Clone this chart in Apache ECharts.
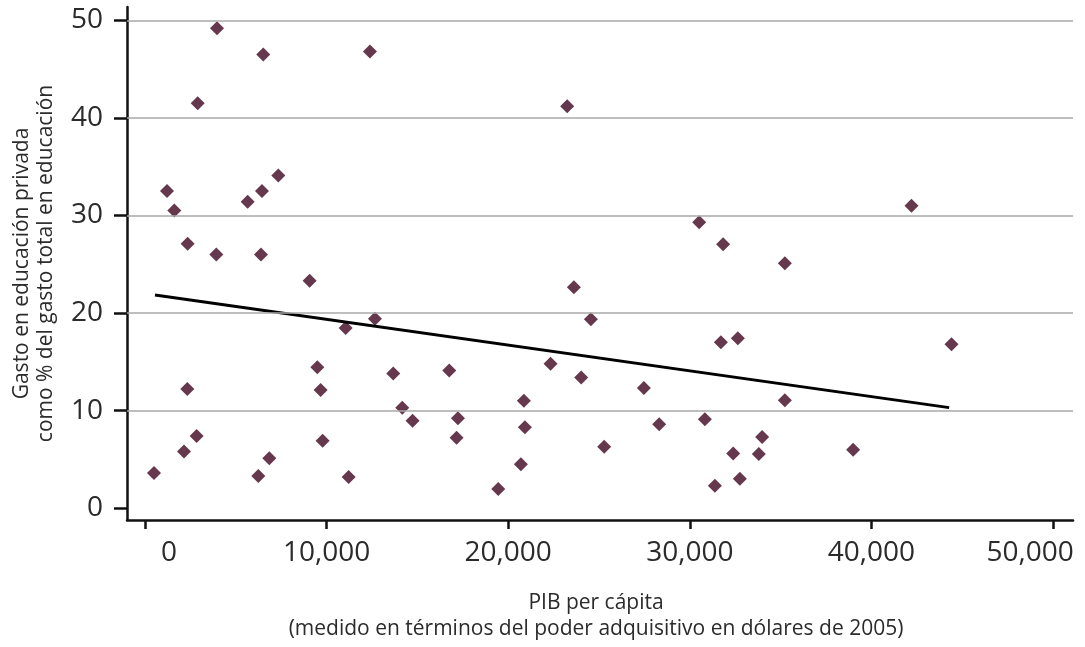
<!DOCTYPE html>
<html><head><meta charset="utf-8">
<script src="https://cdn.jsdelivr.net/npm/echarts@6/dist/echarts.min.js"></script>
<style>html,body{margin:0;padding:0;background:#fff}#c{width:1085px;height:647px}</style>
</head><body><div id="c"></div>
<script>
// PIB per cápita (USD PPA 2005)
const gdp = [495, 1211, 1615, 2147, 2330, 2349, 2844, 2900, 3927, 3964,
  5653, 6239, 6386, 6441, 6513, 6845, 7340, 9065, 9487, 9670,
  9780, 11047, 11212, 12387, 12662, 13671, 14167, 14734, 16755, 17157,
  17231, 19452, 20699, 20864, 20919, 22333, 23249, 23617, 24020, 24553,
  25285, 27470, 28313, 30515, 30829, 31379, 31709, 31836, 32387, 32645,
  32755, 33801, 33983, 35233, 35233, 38993, 42207, 44409];
// Gasto en educación privada como % del gasto total en educación
const privShare = [3.6, 32.5, 30.5, 5.8, 12.2, 27.1, 7.4, 41.5, 26.0, 49.2,
  31.4, 3.3, 26.0, 32.5, 46.5, 5.1, 34.1, 23.3, 14.45, 12.1,
  6.9, 18.45, 3.2, 46.8, 19.4, 13.8, 10.3, 8.95, 14.1, 7.2,
  9.2, 1.96, 4.5, 11.0, 8.3, 14.8, 41.2, 22.65, 13.4, 19.36,
  6.3, 12.3, 8.6, 29.3, 9.1, 2.3, 17.0, 27.06, 5.6, 17.4,
  3.0, 5.55, 7.3, 25.1, 11.05, 5.97, 31.0, 16.8];
// Línea de tendencia (extremos)
const trendX = [550, 44280];
const trendY = [21.84, 10.3];
// Marcas de los ejes
const xTicks = [0, 10000, 20000, 30000, 40000, 50000];
const yTicks = [0, 10, 20, 30, 40, 50];
const gridValues = [10, 20, 30, 40, 50];

const FONT = '"Open Sans", sans-serif';
const TXT = '#2b2b2b';
const chart = echarts.init(document.getElementById('c'));
chart.setOption({
  animation: false,
  backgroundColor: '#fff',
  grid: { left: 127, right: 12, top: 7, bottom: 123 },
  xAxis: {
    type: 'value', min: -991, max: 51100,
    splitLine: { show: false },
    axisLine: { onZero: false, lineStyle: { color: '#111', width: 2.5 } },
    axisTick: { customValues: xTicks, length: 9, lineStyle: { color: '#111', width: 2.5 } },
    axisLabel: {
      customValues: xTicks, margin: 19, color: TXT, fontSize: 28, fontFamily: FONT,
      formatter: v => v === xTicks[0] ? '{z|' + v + '}'
        : v === xTicks[xTicks.length - 1] ? '{e|' + v.toLocaleString('en-US') + '}'
        : v.toLocaleString('en-US'),
      rich: {
        z: { padding: [0, 0, 0, 48], fontSize: 28, color: TXT, fontFamily: FONT },
        e: { padding: [0, 46, 0, 0], fontSize: 28, color: TXT, fontFamily: FONT }
      }
    },
    name: 'PIB per cápita\n(medido en términos del poder adquisitivo en dólares de 2005)',
    nameLocation: 'middle', nameGap: 70,
    nameTextStyle: { fontSize: 21, lineHeight: 26, color: TXT, fontFamily: FONT, padding: [0, 8, 0, 0] }
  },
  yAxis: {
    type: 'value', min: -1.22, max: 51.37,
    splitLine: { show: false },
    axisLine: { onZero: false, lineStyle: { color: '#111', width: 2.5 } },
    axisTick: { customValues: yTicks, length: 13, lineStyle: { color: '#111', width: 2.5 } },
    axisLabel: { customValues: yTicks, margin: 24, color: TXT, fontSize: 28, fontFamily: FONT },
    name: 'Gasto en educación privada\ncomo % del gasto total en educación',
    nameLocation: 'middle', nameRotate: 90, nameGap: 69,
    nameTextStyle: { fontSize: 21, lineHeight: 24, color: TXT, fontFamily: FONT }
  },
  series: [
    {
      type: 'line', data: [], silent: true, z: 1,
      markLine: {
        silent: true, symbol: 'none', label: { show: false },
        lineStyle: { color: '#a8a8a8', width: 1.6, type: 'solid' },
        data: gridValues.map(v => ({ yAxis: v }))
      }
    },
    {
      type: 'scatter', z: 3, symbol: 'diamond', symbolSize: 14,
      itemStyle: { color: '#3f0620' },
      data: gdp.map((x, i) => [x, privShare[i]])
    },
    {
      type: 'line', z: 4, symbol: 'none', silent: true,
      lineStyle: { color: '#000', width: 3 },
      data: trendX.map((x, i) => [x, trendY[i]])
    }
  ]
});
</script>
</body></html>
